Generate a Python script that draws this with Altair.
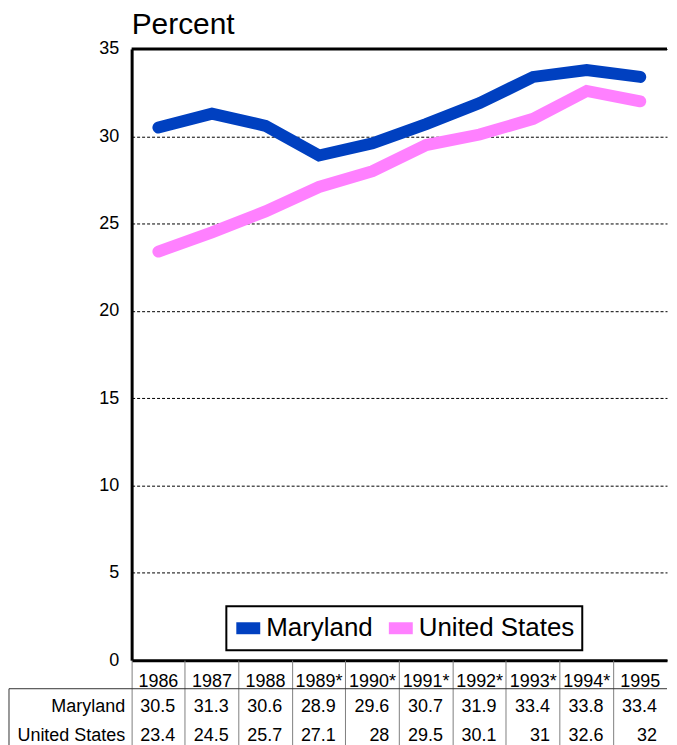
import altair as alt
import pandas as pd

years = ["1986", "1987", "1988", "1989*", "1990*", "1991*", "1992*", "1993*", "1994*", "1995"]
maryland = [30.5, 31.3, 30.6, 28.9, 29.6, 30.7, 31.9, 33.4, 33.8, 33.4]
united_states = [23.4, 24.5, 25.7, 27.1, 28, 29.5, 30.1, 31, 32.6, 32]
series_names = ["Maryland", "United States"]
series_colors = ["#0040C0", "#FF80FF"]
y_ticks = [0, 5, 10, 15, 20, 25, 30, 35]
row_keys = ["hdr", "Maryland", "United States"]

FONT = "Liberation Sans"
PLOT_W = 537
PLOT_H = 613
TABLE_H = 86

lines_df = pd.DataFrame(
    [{"year": y, "series": "Maryland", "value": v} for y, v in zip(years, maryland)]
    + [{"year": y, "series": "United States", "value": v} for y, v in zip(years, united_states)]
)

header_df = pd.DataFrame({"year": years, "row": ["hdr"] * len(years), "label": years})
cells_df = pd.DataFrame(
    [{"year": y, "row": "Maryland", "label": f"{v:g}"} for y, v in zip(years, maryland)]
    + [{"year": y, "row": "United States", "label": f"{v:g}"} for y, v in zip(years, united_states)]
)
rule_df = pd.DataFrame({"row": ["Maryland"]})

x_main = alt.X(
    "year:N",
    sort=years,
    scale=alt.Scale(domain=years, padding=0.5),
    axis=alt.Axis(
        title=None, labels=False, ticks=False, grid=False,
        domain=True, domainColor="black", domainWidth=3,
    ),
)
y_main = alt.Y(
    "value:Q",
    scale=alt.Scale(domain=[0, 35], nice=False, zero=True),
    axis=alt.Axis(
        values=y_ticks,
        title=None,
        grid=True,
        gridDash=[3, 2],
        gridColor="black",
        gridWidth=1,
        gridOpacity=1,
        ticks=False,
        domain=True,
        domainColor="black",
        domainWidth=3,
        labelFontSize=18,
        labelPadding=13,
        labelColor="black",
        labelFont=FONT,
    ),
)

lines = (
    alt.Chart(lines_df)
    .mark_line(strokeWidth=12, strokeCap="round", strokeJoin="miter")
    .encode(
        x=x_main,
        y=y_main,
        color=alt.Color(
            "series:N",
            scale=alt.Scale(domain=series_names, range=series_colors),
            legend=alt.Legend(
                title=None,
                orient="none",
                legendX=95,
                legendY=559,
                direction="horizontal",
                fillColor="white",
                strokeColor="black",
                padding=7,
                labelFontSize=26,
                labelFont=FONT,
                labelColor="black",
                labelOffset=3,
                columnPadding=7,
                gridAlign="none",
                symbolType="M-0.75,-0.25H0.75V0.25H-0.75Z",
                symbolSize=576,
                symbolStrokeWidth=6,
                symbolOpacity=1,
            ),
        ),
    )
)

top_border = alt.Chart(rule_df).mark_rule(color="black", strokeWidth=3).encode(y=alt.datum(35))

main = alt.layer(top_border, lines).properties(
    width=PLOT_W,
    height=PLOT_H,
    view=alt.ViewBackground(stroke="transparent"),
)

# ---- data table ----
x_tab = alt.X(
    "year:N",
    sort=years,
    scale=alt.Scale(type="band", domain=years, paddingInner=0, paddingOuter=0),
    axis=alt.Axis(
        title=None,
        labels=False,
        ticks=False,
        domain=False,
        grid=True,
        bandPosition=0,
        gridColor="#808080",
        gridWidth=1,
    ),
)
y_scale = alt.Scale(type="band", domain=row_keys, paddingInner=0, paddingOuter=0)
y_tab = alt.Y(
    "row:N",
    sort=row_keys,
    scale=y_scale,
    axis=alt.Axis(
        title=None,
        ticks=False,
        domain=False,
        grid=False,
        labelFontSize=18,
        labelFont=FONT,
        labelColor="black",
        labelPadding=7,
        labelOffset=4,
        labelExpr="datum.value == 'hdr' ? '' : datum.value",
    ),
)

header = (
    alt.Chart(header_df)
    .mark_text(fontSize=18, font=FONT, color="black", align="center", baseline="middle", dy=8)
    .encode(x=x_tab, y=y_tab, text="label:N")
)

cells = (
    alt.Chart(cells_df)
    .mark_text(fontSize=18, font=FONT, color="black", align="right", baseline="middle", dx=-10, dy=4)
    .encode(
        x=alt.X("year:N", sort=years, bandPosition=1),
        y=alt.Y("row:N", sort=row_keys),
        text="label:N",
    )
)

top_line = (
    alt.Chart(rule_df)
    .mark_rule(color="#333333", strokeWidth=1)
    .encode(
        y=alt.Y("row:N", bandPosition=0),
        x=alt.value(-123),
        x2=alt.value(PLOT_W),
    )
)

left_border = (
    alt.Chart(rule_df)
    .mark_rule(color="#333333", strokeWidth=1)
    .encode(
        y=alt.Y("row:N", bandPosition=0),
        y2=alt.value(TABLE_H),
        x=alt.value(-123),
    )
)

table = alt.layer(header, cells, top_line, left_border).properties(
    width=PLOT_W,
    height=TABLE_H,
    view=alt.ViewBackground(stroke="transparent"),
)

chart = (
    alt.vconcat(main, table, spacing=0, bounds="flush")
    .properties(
        padding={"left": 0, "top": 0, "right": 0, "bottom": 0},
        title=alt.TitleParams(
            "Percent",
            anchor="start",
            frame="group",
            fontSize=30,
            fontWeight="normal",
            font=FONT,
            color="black",
            offset=0,
        ),
    )
    .configure(font=FONT)
    .configure_legend(strokeWidth=2)
)

chart.save("out.html", embed_options={"renderer": "svg", "actions": False})
